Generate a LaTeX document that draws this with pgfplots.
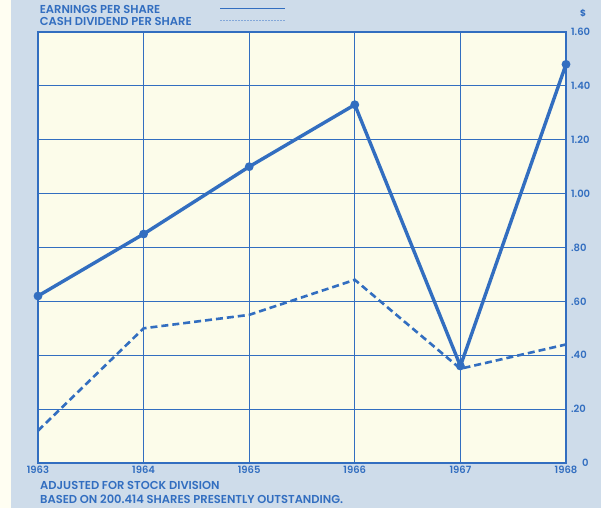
\documentclass[border=0pt]{standalone}
\usepackage{pgfplots}
\pgfplotsset{compat=1.18}
\usepackage{fontspec}
\setmainfont{Poppins}[UprightFont=* SemiBold, BoldFont=* Bold]
\definecolor{ink}{RGB}{50,110,192}
\definecolor{paper}{RGB}{252,252,234}
\definecolor{board}{RGB}{206,220,234}
\begin{document}
\begin{tikzpicture}
\useasboundingbox (0pt,0pt) rectangle (601pt,508pt);
\fill[board] (0pt,0pt) rectangle (601pt,508pt);
\fill[white!95!yellow] (0pt,0pt) rectangle (11pt,508pt);
\begin{axis}[
  name=ax, at={(38pt,45pt)}, anchor=south west,
  scale only axis, width=528pt, height=431pt,
  xmin=1963, xmax=1968, ymin=0, ymax=1.6,
  xtick={1963,1964,1965,1966,1967,1968},
  xticklabels={1963,1964,1965,1966,1967,1968},
  ytick={0,0.2,0.4,0.6,0.8,1.0,1.2,1.4,1.6},
  yticklabels={\hspace{11pt}0,.20,.40,.60,.80,1.00,1.20,1.40,1.60},
  yticklabel pos=right,
  /pgf/number format/assume math mode=true,
  ticklabel style={font=\fontsize{10}{11}\selectfont, text=ink},
  yticklabel style={anchor=west, xshift=1.5pt},
  axis background/.style={fill=paper},
  grid=major,
  major grid style={ink, line width=1.2pt},
  axis line style={ink, line width=1.5pt},
  major tick length=0pt,
  legend plot pos=right,
  legend cell align=left,
  legend style={at={(axis description cs:0.003,1.062)}, anchor=north west,
    draw=none, fill=none, inner sep=0pt, row sep=4pt, column sep=28pt,
    font=\fontsize{11.5}{12}\selectfont, text=ink,
    nodes={inner sep=0pt, text height=8pt, text depth=0pt}},
  legend image code/.code={\draw[#1] (0pt,1pt) -- (65pt,1pt);},
]
\addplot[ink, line width=3.4pt, mark=*, mark size=2.6pt, mark options={solid}, forget plot]
  coordinates {(1963,0.62) (1964,0.85) (1965,1.10) (1966,1.33) (1967,0.36) (1968,1.48)};
\addplot[ink, line width=2.6pt, dash pattern=on 7pt off 4pt, forget plot]
  coordinates {(1963,0.12) (1964,0.50) (1965,0.55) (1966,0.68) (1967,0.35) (1968,0.44)};
\addlegendimage{ink, line width=1.2pt}
\addlegendentry{EARNINGS PER SHARE}
\addlegendimage{ink!60, line width=1pt, dash pattern=on 2pt off 1pt}
\addlegendentry{CASH DIVIDEND PER SHARE}
\end{axis}
\node[anchor=center, inner sep=0pt, text=ink, font=\fontsize{9}{10}\selectfont\bfseries] at (583pt,495pt) {\$};
\node[anchor=base west, inner sep=0pt, text=ink, font=\fontsize{11.5}{12}\selectfont] at (40pt,19pt) {ADJUSTED FOR STOCK DIVISION};
\node[anchor=base west, inner sep=0pt, text=ink, font=\fontsize{11.5}{12}\selectfont] at (40pt,5pt) {BASED ON 200.414 SHARES PRESENTLY OUTSTANDING.};
\end{tikzpicture}
\end{document}
